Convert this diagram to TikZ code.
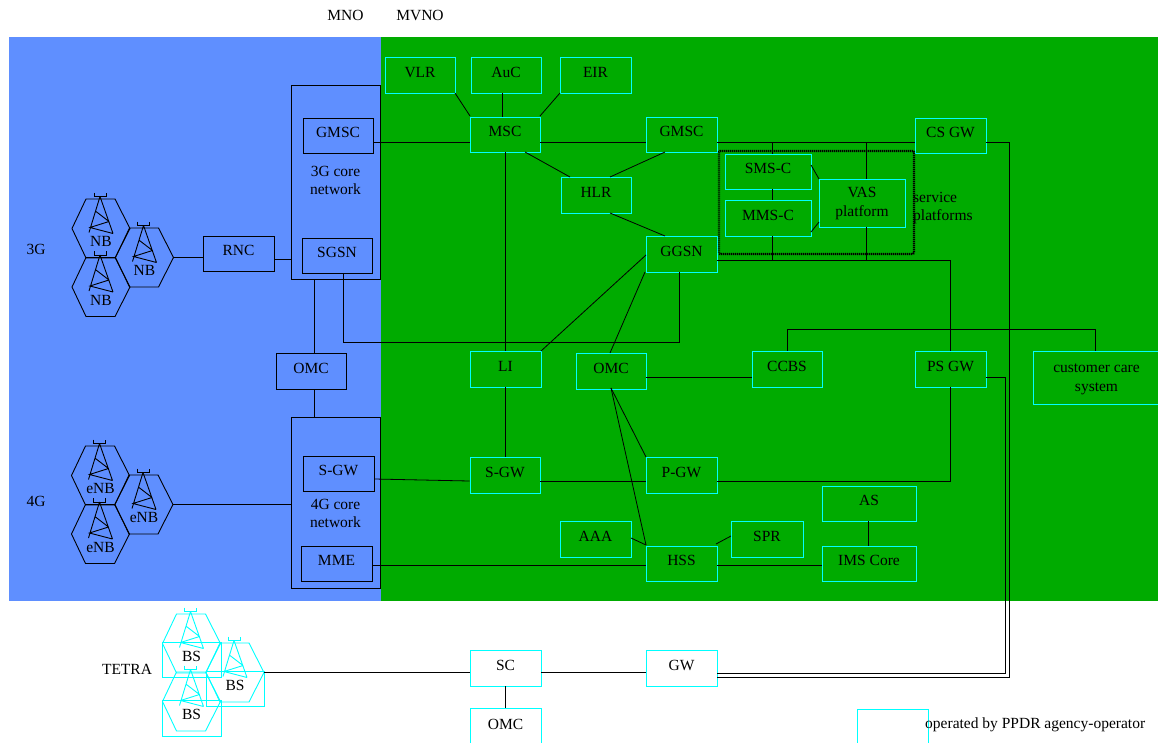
\documentclass[tikz,border=0pt]{standalone}
\usepackage{fontspec}
\setmainfont{Liberation Serif}
\definecolor{bluebg}{HTML}{5F8FFF}
\definecolor{greenbg}{HTML}{00AB00}
\definecolor{cy}{HTML}{00FFFF}
\newcommand{\lift}{\rule[-6pt]{0pt}{6pt}}
\newcommand{\drop}{\rule{0pt}{14pt}}
\tikzset{
  x=1pt,y=-1pt,
  box/.style={draw=#1,line width=0.95pt,inner sep=0pt,align=center,font=\fontsize{15.5}{18}\selectfont,text=black},
  link/.style={draw=black,line width=0.8pt},
  hexa/.style={draw=#1,line width=0.9pt},
  lbl/.style={inner sep=0pt,align=center,font=\fontsize{15.5}{18}\selectfont},
}
% \bx{name}{colour}{x1}{y1}{x2}{y2}{text}
\newcommand{\bx}[7]{\node[box=#2,minimum width=#5pt-#3pt,minimum height=#6pt-#4pt] (#1) at ({(#3+#5)/2},{(#4+#6)/2}) {#7\lift};}
% \cell{name}{colour}{cx}{cy}{label}
\newcommand{\cell}[5]{%
  \begin{scope}[shift={(#3,#4)}]
  \coordinate (#1) at (0,0);
  \coordinate (#1E) at (29,0);
  \draw[hexa=#2] (-29,0) -- (-15,-29.5) -- (14,-29.5) -- (29,0) -- (14,29.5) -- (-15,29.5) -- cycle;
  \draw[hexa=#2] (-1,-32) -- (-12,4) (-1,-32) -- (12,5) (8,-7) -- (-11,-1) -- (12,5) (8,-7) -- (-5,-17);
  \draw[hexa=#2] (-7,-36) -- (-7,-32) -- (5,-32) -- (5,-36);
  \node[lbl] (#1L) at (0,13) {#5};
  \end{scope}}
\begin{document}
\begin{tikzpicture}
\useasboundingbox (0,0) rectangle (1158,742);
\fill[bluebg] (9,37) rectangle (381,601);
\fill[greenbg] (381,37) rectangle (1158,601);
% blue side
\node[box=black,minimum width=89pt,minimum height=194pt] (core3) at (335.5,182) {};
\node[box=black,minimum width=89pt,minimum height=171pt] (core4) at (335.5,502.5) {};
\bx{gmscb}{black}{303}{118}{373}{153}{GMSC}
\bx{sgsn}{black}{302}{238}{372}{273}{SGSN}
\bx{rnc}{black}{203}{236}{274}{271}{RNC}
\bx{omcb}{black}{276}{353}{346}{389}{OMC}
\bx{sgwb}{black}{303}{456}{374}{491}{S-GW}
\bx{mme}{black}{301}{546}{372}{581}{MME}
\node[lbl] (t3g) at (335.5,180.5) {3G core\\network};
\node[lbl] (t4g) at (335.5,513) {4G core\\network};
% green side boxes
\bx{vlr}{cy}{385}{57}{455}{93}{VLR}
\bx{auc}{cy}{471}{57}{541}{93}{AuC}
\bx{eir}{cy}{560}{57}{631}{93}{EIR}
\bx{msc}{cy}{470}{117}{540}{152}{MSC}
\bx{gmsc}{cy}{646}{117}{717}{152}{GMSC}
\bx{csgw}{cy}{915}{118}{986}{153}{CS GW}
\bx{hlr}{cy}{561}{177}{631}{213}{HLR}
\bx{smsc}{cy}{725}{154}{811}{189}{SMS-C}
\bx{mmsc}{cy}{725}{200}{811}{236}{MMS-C}
\bx{vas}{cy}{819}{179}{905}{227}{\drop VAS\\[1pt]platform}
\bx{ggsn}{cy}{646}{236}{717}{272}{GGSN}
\bx{li}{cy}{470}{351}{541}{387}{LI}
\bx{omcg}{cy}{576}{353}{646}{389}{OMC}
\bx{ccbs}{cy}{752}{351}{822}{387}{CCBS}
\bx{psgw}{cy}{915}{351}{986}{387}{PS GW}
\bx{care}{cy}{1033}{351}{1160}{404}{\drop customer care\\[1pt]system}
\bx{sgw}{cy}{470}{457}{540}{493}{S-GW}
\bx{pgw}{cy}{646}{457}{717}{493}{P-GW}
\bx{as}{cy}{822}{486}{916}{521}{AS}
\bx{aaa}{cy}{560}{521}{631}{557}{AAA}
\bx{spr}{cy}{731}{521}{803}{557}{SPR}
\bx{hss}{cy}{646}{546}{717}{581}{HSS}
\bx{ims}{cy}{822}{546}{916}{581}{IMS Core}
\bx{sc}{cy}{470}{650}{541}{686}{SC}
\bx{gw}{cy}{646}{650}{717}{686}{GW}
\bx{omct}{cy}{470}{708}{541}{746}{OMC}
\bx{leg}{cy}{857}{709}{928}{746}{}
\node[draw=black,line width=2.2pt,dash pattern=on 1.1pt off 0.9pt,rounded corners=1pt,minimum width=195pt,minimum height=103pt,inner sep=0pt] (sp) at (816.5,202.5) {};
% cells
\cell{nba}{black}{101}{228.5}{NB}
\cell{nbb}{black}{144.5}{257.5}{NB}
\cell{nbc}{black}{101}{287}{NB}
\cell{ena}{black}{100.5}{475.5}{eNB}
\cell{enb}{black}{144}{504.5}{eNB}
\cell{enc}{black}{100.5}{534}{eNB}
\draw[cy,line width=0.9pt] (162,642) rectangle (221,677) (206,671) rectangle (264,706) (162,700) rectangle (221,736);
\cell{bsa}{cy}{191.5}{643.5}{BS}
\cell{bsb}{cy}{235}{672.5}{BS}
\cell{bsc}{cy}{191.5}{701.5}{BS}
% labels
\node[lbl] (mno) at (345.5,15) {MNO};
\node[lbl] (mvno) at (420,15) {MVNO};
\node[lbl] (l3g) at (36,249) {3G};
\node[lbl] (l4g) at (36,501) {4G};
\node[lbl] (ltetra) at (127,669) {TETRA};
\node[lbl,align=left,anchor=west] (lsp) at (913,208) {service\\platforms};
\node[lbl,anchor=west] (lop) at (925,725) {operated by PPDR agency-operator};
% links
\coordinate (j1) at (772,142);
\coordinate (j2) at (866,142);
\coordinate (j3) at (772,260);
\coordinate (j4) at (866,260);
\coordinate (c1) at (950,260);
\coordinate (c2) at (343,342);
\coordinate (c3) at (679,342);
\coordinate (c4) at (787,329);
\coordinate (c5) at (1095,329);
\draw[link] (nbbE) -- (rnc.west|-nbbE);
\draw[link] (rnc.east|-0,259) -- (core3.west|-0,259);
\draw[link] (core3.south-|314,0) -- (omcb.north-|314,0);
\draw[link] (omcb.south-|314,0) -- (core4.north-|314,0);
\draw[link] (enbE) -- (core4.west|-enbE);
\draw[link] (bsbE) -- (sc.west|-bsbE);
\draw[link] (gmscb.east|-0,142) -- (msc.west|-0,142);
\draw[link] (msc.east|-0,142) -- (gmsc.west|-0,142);
\draw[link] (gmsc.east|-0,142) -- (csgw.west|-0,142);
\draw[link] (j1) -- (smsc.north-|j1);
\draw[link] (j2) -- (vas.north-|j2);
\draw[link] (smsc.south-|j1) -- (mmsc.north-|j1);
\draw[link] (mmsc.south-|j3) -- (j3);
\draw[link] (vas.south-|j4) -- (j4);
\draw[link] (811,165) -- (819,179);
\draw[link] (811,232) -- (819,222);
\draw[link] (ggsn.east|-0,260) -- (c1) -- (psgw.north-|c1);
\draw[link] (455,93) -- (470,116);
\draw[link] (auc.south-|502,0) -- (msc.north-|502,0);
\draw[link] (560,93) -- (540,116);
\draw[link] (525,152) -- (570,177);
\draw[link] (665,152) -- (610,177);
\draw[link] (610,213) -- (665,236);
\draw[link] (msc.south-|505,0) -- (li.north-|505,0);
\draw[link] (li.south-|505,0) -- (sgw.north-|505,0);
\draw[link] (646,255) -- (541,351);
\draw[link] (645,272) -- (610,353);
\draw[link] (sgsn.south-|c2) -- (c2) -- (c3) -- (ggsn.south-|c3);
\draw[link] (omcg.east|-0,377) -- (ccbs.west|-0,377);
\draw[link] (ccbs.north-|c4) -- (c4) -- (c5) -- (care.north-|c5);
\draw[link] (psgw.east|-0,377) -- (1005,377) -- (1005,673) -- (gw.east|-0,673);
\draw[link] (csgw.east|-0,142) -- (1009.5,142) -- (1009.5,677) -- (gw.east|-0,677);
\draw[link] (sgwb.east|-0,479) -- (sgw.west|-0,481);
\draw[link] (sgw.east|-0,481) -- (pgw.west|-0,481);
\draw[link] (pgw.east|-0,481) -- (950,481) -- (psgw.south-|950,0);
\draw[link] (611,388) -- (646,457);
\draw[link] (611,388) -- (646,545);
\draw[link] (631,538) -- (646,545);
\draw[link] (731,536) -- (716,544);
\draw[link] (mme.east|-0,565) -- (hss.west|-0,565);
\draw[link] (hss.east|-0,565) -- (ims.west|-0,565);
\draw[link] (as.south-|868,0) -- (ims.north-|868,0);
\draw[link] (sc.east|-0,672) -- (gw.west|-0,672);
\draw[link] (sc.south-|505,0) -- (omct.north-|505,0);
\end{tikzpicture}
\end{document}
